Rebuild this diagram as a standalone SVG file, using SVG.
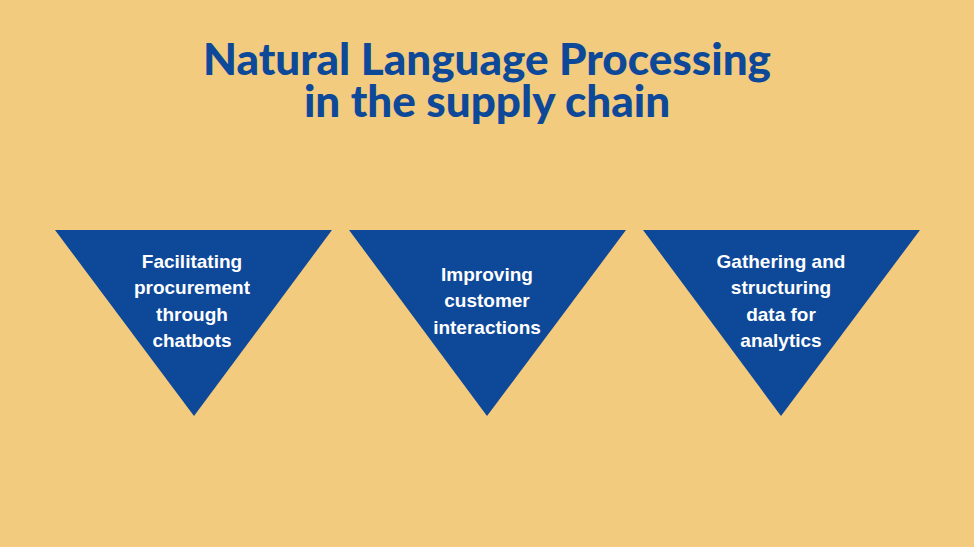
<svg xmlns="http://www.w3.org/2000/svg" width="974" height="547" viewBox="0 0 974 547">
<style>
.title{font-family:"Lato","Open Sans","Liberation Sans",sans-serif;font-weight:900;font-size:44px;fill:#0E4898;text-anchor:middle}
.tri{fill:#0E4898}
.lbl{font-family:"Liberation Sans",Arial,sans-serif;font-weight:bold;font-size:19px;fill:#FFFFFF;text-anchor:middle}
</style>
<rect width="974" height="547" fill="#F3CB7E"/>
<g id="title">
<text class="title" x="487" y="75">Natural Language Processing</text>
<text class="title" x="487" y="117">in the supply chain</text>
</g>
<g id="node1">
<polygon class="tri" points="55,230 332,230 194,416"/>
<text class="lbl" x="192" y="268">Facilitating</text>
<text class="lbl" x="192" y="294">procurement</text>
<text class="lbl" x="192" y="321">through</text>
<text class="lbl" x="192" y="347">chatbots</text>
</g>
<g id="node2">
<polygon class="tri" points="349,230 626,230 487,416"/>
<text class="lbl" x="487" y="281">Improving</text>
<text class="lbl" x="487" y="307">customer</text>
<text class="lbl" x="487" y="334">interactions</text>
</g>
<g id="node3">
<polygon class="tri" points="643,230 920,230 781,416"/>
<text class="lbl" x="781" y="268">Gathering and</text>
<text class="lbl" x="781" y="294">structuring</text>
<text class="lbl" x="781" y="321">data for</text>
<text class="lbl" x="781" y="347">analytics</text>
</g>
<g id="connectors"/>
</svg>
